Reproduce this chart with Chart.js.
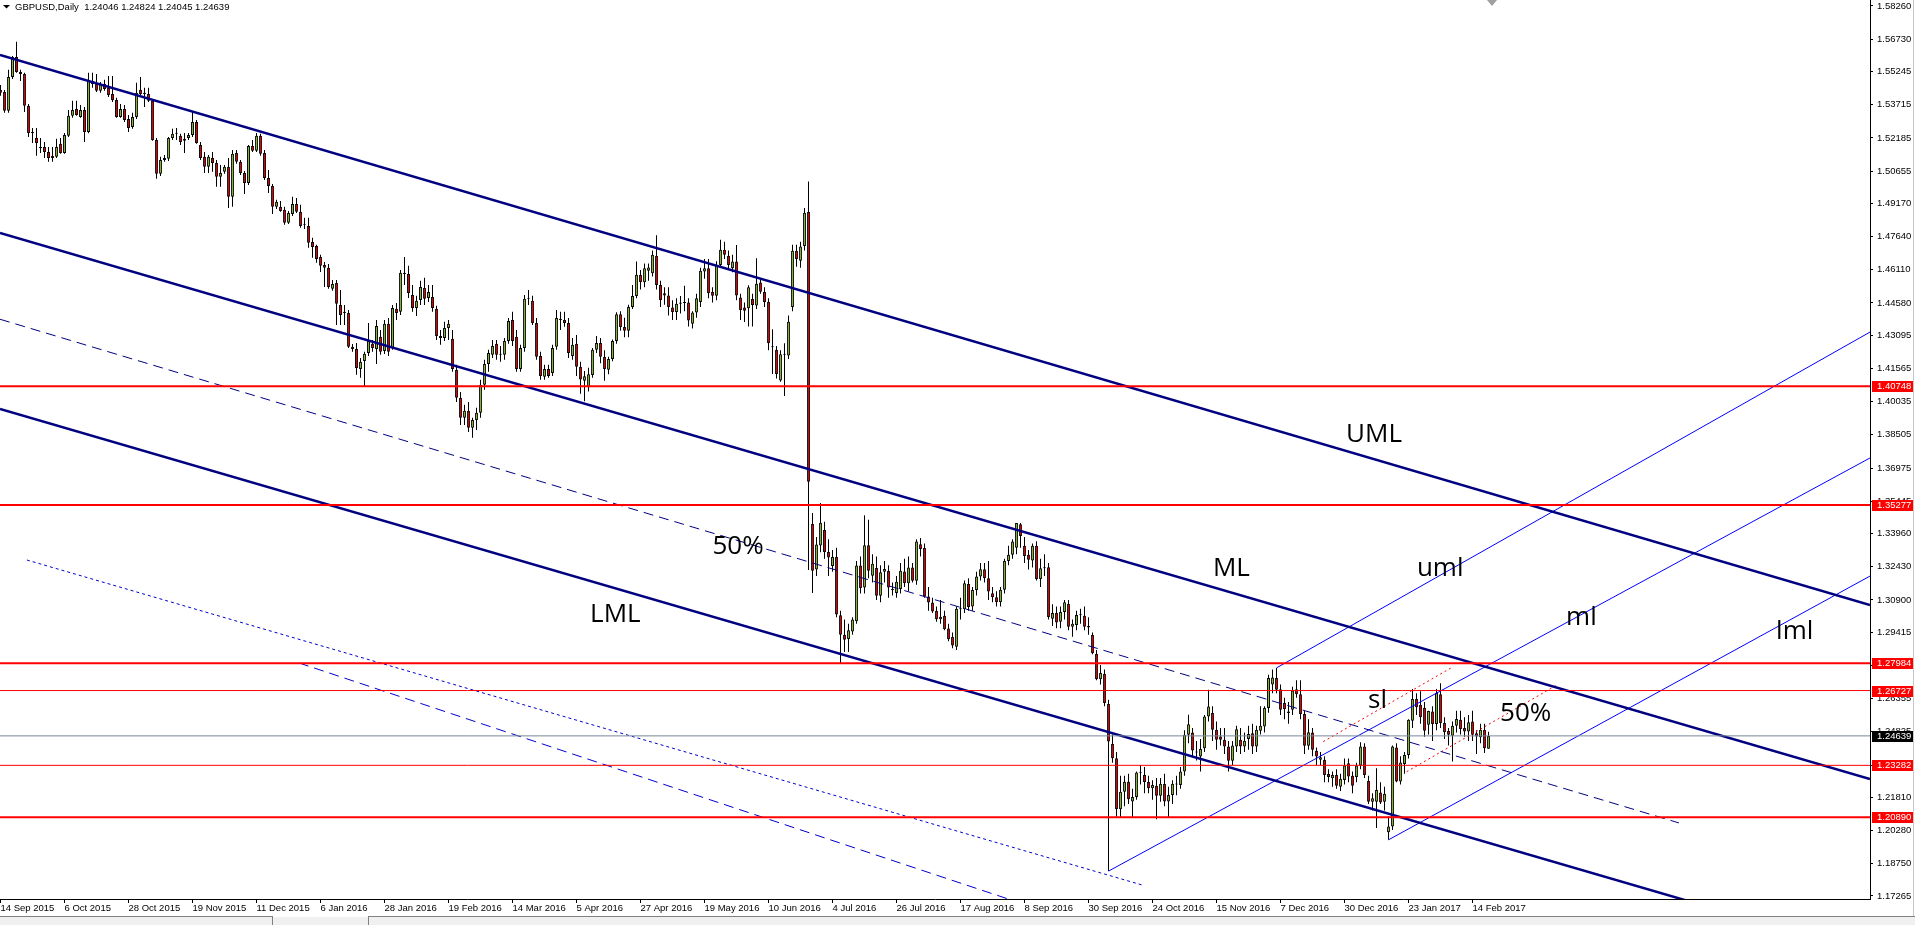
<!DOCTYPE html>
<html><head><meta charset="utf-8">
<script src="https://cdn.jsdelivr.net/npm/chart.js@4.4.0/dist/chart.umd.min.js"></script>
<style>html,body{margin:0;padding:0;background:#fff;overflow:hidden}canvas{display:block}</style>
</head><body>
<canvas id="c" width="1915" height="925"></canvas>
<script>
// ---- daily GBPUSD candles, 14 Sep 2015 (bar 0) .. 20 Feb 2017 (bar 372) ----
const opens = [
1.5439,1.5430,1.5343,1.5499,1.5591,1.5522,1.5513,1.5366,1.5241,1.5218,
1.5177,1.5177,1.5154,1.5136,1.5131,1.5191,1.5149,1.5228,1.5320,1.5352,
1.5315,1.5347,1.5246,1.5481,1.5467,1.5435,1.5467,1.5449,1.5421,1.5393,
1.5315,1.5352,1.5306,1.5269,1.5315,1.5440,1.5426,1.5421,1.5389,1.5209,
1.5053,1.5117,1.5122,1.5218,1.5237,1.5228,1.5205,1.5218,1.5232,1.5292,
1.5186,1.5131,1.5085,1.5126,1.5103,1.5039,1.5062,1.5085,1.4947,1.5149,
1.5108,1.5057,1.5011,1.5181,1.5159,1.5228,1.5149,1.5034,1.4997,1.4901,
1.4901,1.4887,1.4827,1.4868,1.4914,1.4878,1.4822,1.4813,1.4739,1.4721,
1.4670,1.4633,1.4620,1.4523,1.4550,1.4449,1.4412,1.4412,1.4256,1.4246,
1.4154,1.4191,1.4228,1.4270,1.4246,1.4302,1.4237,1.4362,1.4251,1.4431,
1.4417,1.4597,1.4592,1.4495,1.4435,1.4472,1.4527,1.4481,1.4486,1.4431,
1.4306,1.4297,1.4343,1.4293,1.4150,1.4021,1.3929,1.3961,1.3883,1.3919,
1.3952,1.4081,1.4177,1.4219,1.4270,1.4219,1.4219,1.4283,1.4380,1.4302,
1.4154,1.4251,1.4477,1.4468,1.4366,1.4214,1.4118,1.4154,1.4136,1.4256,
1.4385,1.4380,1.4366,1.4214,1.4270,1.4164,1.4100,1.4070,1.4126,1.4242,
1.4274,1.4210,1.4150,1.4200,1.4283,1.4406,1.4347,1.4330,1.4440,1.4490,
1.4588,1.4554,1.4606,1.4595,1.4675,1.4541,1.4503,1.4492,1.4437,1.4416,
1.4454,1.4460,1.4460,1.4362,1.4414,1.4462,1.4603,1.4618,1.4510,1.4491,
1.4633,1.4703,1.4675,1.4618,1.4649,1.4483,1.4437,1.4434,1.4476,1.4446,
1.4552,1.4508,1.4464,1.4255,1.4242,1.4101,1.4220,1.4216,1.4440,1.4698,
1.4653,1.4720,1.4877,1.3440,1.3230,1.3341,1.3412,1.3311,1.3246,1.3288,
1.3019,1.2930,1.2910,1.2945,1.2992,1.3249,1.3147,1.3342,1.3202,1.3237,
1.3109,1.3220,1.3225,1.3140,1.3122,1.3140,1.3221,1.3167,1.3240,1.3178,
1.3347,1.3329,1.3106,1.3078,1.3040,1.3001,1.3017,1.2958,1.2919,1.2875,
1.3049,1.3047,1.3164,1.3060,1.3136,1.3198,1.3232,1.3190,1.3121,1.3103,
1.3080,1.3137,1.3270,1.3298,1.3330,1.3439,1.3340,1.3298,1.3272,1.3340,
1.3186,1.3236,1.3241,1.3003,1.3030,1.2990,1.3034,1.3071,1.2967,1.2975,
1.3021,1.3017,1.2970,1.2929,1.2842,1.2725,1.2750,1.2611,1.2426,1.2361,
1.2126,1.2207,1.2253,1.2162,1.2182,1.2295,1.2284,1.2251,1.2223,1.2234,
1.2188,1.2242,1.2162,1.2192,1.2243,1.2238,1.2300,1.2469,1.2480,1.2390,
1.2369,1.2407,1.2553,1.2569,1.2492,1.2461,1.2446,1.2415,1.2349,1.2415,
1.2446,1.2415,1.2449,1.2476,1.2415,1.2488,1.2507,1.2592,1.2700,1.2730,
1.2679,1.2615,1.2576,1.2584,1.2679,1.2656,1.2565,1.2418,1.2479,1.2395,
1.2354,1.2354,1.2288,1.2269,1.2284,1.2230,1.2261,1.2338,1.2280,1.2274,
1.2327,1.2415,1.2257,1.2161,1.2161,1.2203,1.2161,1.2020,1.2046,1.2410,
1.2254,1.2334,1.2376,1.2534,1.2634,1.2607,1.2594,1.2515,1.2576,1.2519,
1.2656,1.2523,1.2487,1.2464,1.2510,1.2538,1.2500,1.2484,1.2530,1.2476,
1.2458,1.2492,1.24046];
const highs = [
1.5462,1.5439,1.5532,1.5596,1.5661,1.5532,1.5518,1.5375,1.5264,1.5264,
1.5218,1.5200,1.5177,1.5177,1.5214,1.5218,1.5241,1.5347,1.5389,1.5389,
1.5370,1.5361,1.5518,1.5518,1.5513,1.5476,1.5486,1.5504,1.5504,1.5403,
1.5375,1.5370,1.5324,1.5334,1.5472,1.5499,1.5449,1.5449,1.5398,1.5218,
1.5131,1.5140,1.5223,1.5260,1.5264,1.5237,1.5241,1.5241,1.5338,1.5301,
1.5200,1.5154,1.5140,1.5154,1.5117,1.5094,1.5094,1.5126,1.5163,1.5163,
1.5117,1.5066,1.5186,1.5209,1.5241,1.5237,1.5163,1.5071,1.5006,1.4933,
1.4928,1.4901,1.4882,1.4947,1.4942,1.4910,1.4850,1.4850,1.4758,1.4726,
1.4680,1.4647,1.4638,1.4564,1.4564,1.4518,1.4449,1.4426,1.4269,1.4274,
1.4205,1.4233,1.4366,1.4288,1.4380,1.4334,1.4380,1.4389,1.4449,1.4458,
1.4610,1.4670,1.4629,1.4541,1.4491,1.4560,1.4574,1.4541,1.4541,1.4445,
1.4334,1.4371,1.4380,1.4334,1.4173,1.4048,1.3989,1.4002,1.3929,1.3975,
1.4104,1.4196,1.4242,1.4288,1.4288,1.4260,1.4297,1.4389,1.4417,1.4334,
1.4265,1.4495,1.4518,1.4491,1.4389,1.4233,1.4173,1.4173,1.4265,1.4426,
1.4417,1.4417,1.4389,1.4297,1.4311,1.4187,1.4145,1.4160,1.4251,1.4306,
1.4297,1.4240,1.4210,1.4290,1.4415,1.4420,1.4390,1.4450,1.4541,1.4649,
1.4610,1.4640,1.4640,1.4700,1.4770,1.4560,1.4530,1.4530,1.4470,1.4480,
1.4490,1.4537,1.4480,1.4420,1.4500,1.4620,1.4660,1.4660,1.4530,1.4650,
1.4749,1.4740,1.4700,1.4680,1.4725,1.4500,1.4460,1.4540,1.4500,1.4664,
1.4570,1.4530,1.4480,1.4337,1.4260,1.4240,1.4273,1.4400,1.4726,1.4726,
1.4740,1.4895,1.5018,1.3491,1.3380,1.3537,1.3450,1.3370,1.3320,1.3330,
1.3040,1.3000,1.2980,1.3010,1.3270,1.3290,1.3480,1.3460,1.3300,1.3290,
1.3250,1.3270,1.3250,1.3170,1.3200,1.3260,1.3280,1.3290,1.3260,1.3370,
1.3375,1.3350,1.3150,1.3100,1.3060,1.3090,1.3040,1.2980,1.2940,1.3060,
1.3100,1.3180,1.3190,1.3150,1.3220,1.3260,1.3260,1.3270,1.3150,1.3130,
1.3150,1.3280,1.3340,1.3370,1.3445,1.3445,1.3380,1.3320,1.3350,1.3360,
1.3280,1.3300,1.3260,1.3070,1.3060,1.3060,1.3090,1.3090,1.3000,1.3040,
1.3050,1.3060,1.3010,1.2940,1.2860,1.2790,1.2770,1.2630,1.2470,1.2390,
1.2280,1.2280,1.2290,1.2220,1.2300,1.2330,1.2320,1.2280,1.2260,1.2270,
1.2270,1.2290,1.2230,1.2260,1.2280,1.2320,1.2490,1.2561,1.2500,1.2440,
1.2450,1.2560,1.2676,1.2600,1.2530,1.2500,1.2500,1.2440,1.2440,1.2510,
1.2500,1.2480,1.2510,1.2520,1.2510,1.2600,1.2600,1.2745,1.2770,1.2776,
1.2700,1.2640,1.2620,1.2690,1.2720,1.2720,1.2580,1.2540,1.2500,1.2410,
1.2390,1.2370,1.2310,1.2300,1.2310,1.2290,1.2360,1.2360,1.2300,1.2340,
1.2435,1.2430,1.2280,1.2200,1.2315,1.2250,1.2230,1.2092,1.2420,1.2430,
1.2370,1.2390,1.2540,1.2680,1.2660,1.2670,1.2620,1.2580,1.2600,1.2680,
1.2706,1.2550,1.2500,1.2530,1.2580,1.2580,1.2550,1.2560,1.2580,1.2490,
1.2520,1.2520,1.24824];
const lows = [
1.5412,1.5334,1.5334,1.5490,1.5518,1.5481,1.5338,1.5223,1.5195,1.5136,
1.5149,1.5126,1.5108,1.5108,1.5126,1.5145,1.5145,1.5223,1.5311,1.5320,
1.5311,1.5200,1.5240,1.5449,1.5430,1.5426,1.5435,1.5407,1.5384,1.5311,
1.5311,1.5292,1.5246,1.5260,1.5306,1.5412,1.5361,1.5384,1.5205,1.5030,
1.5043,1.5108,1.5112,1.5209,1.5209,1.5186,1.5149,1.5209,1.5223,1.5191,
1.5117,1.5057,1.5057,1.5062,1.4993,1.4993,1.5053,1.4896,1.4901,1.5099,
1.5048,1.4960,1.5002,1.5154,1.5154,1.5136,1.5025,1.4965,1.4868,1.4891,
1.4878,1.4818,1.4822,1.4859,1.4873,1.4804,1.4799,1.4712,1.4666,1.4643,
1.4601,1.4532,1.4523,1.4514,1.4357,1.4357,1.4357,1.4251,1.4233,1.4127,
1.4113,1.4076,1.4214,1.4233,1.4177,1.4219,1.4223,1.4214,1.4242,1.4380,
1.4403,1.4541,1.4481,1.4417,1.4398,1.4449,1.4449,1.4463,1.4417,1.4288,
1.4265,1.4283,1.4288,1.4141,1.4002,1.3896,1.3896,1.3864,1.3837,1.3873,
1.3929,1.4058,1.4141,1.4205,1.4196,1.4187,1.4196,1.4270,1.4260,1.4141,
1.4141,1.4233,1.4449,1.4357,1.4196,1.4104,1.4104,1.4113,1.4122,1.4242,
1.4334,1.4348,1.4205,1.4196,1.4122,1.4040,1.4005,1.4050,1.4113,1.4228,
1.4180,1.4100,1.4130,1.4190,1.4270,1.4330,1.4300,1.4300,1.4430,1.4480,
1.4520,1.4530,1.4560,1.4580,1.4520,1.4440,1.4450,1.4400,1.4380,1.4380,
1.4410,1.4420,1.4350,1.4340,1.4390,1.4440,1.4570,1.4480,1.4460,1.4470,
1.4620,1.4660,1.4610,1.4600,1.4470,1.4380,1.4370,1.4350,1.4350,1.4430,
1.4500,1.4440,1.4240,1.4131,1.4110,1.4095,1.4030,1.4200,1.4420,1.4625,
1.4620,1.4700,1.3228,1.3122,1.3200,1.3310,1.3280,1.3200,1.3220,1.3010,
1.2798,1.2850,1.2850,1.2930,1.2980,1.3120,1.3120,1.3190,1.3170,1.3090,
1.3080,1.3170,1.3100,1.3110,1.3100,1.3120,1.3150,1.3130,1.3170,1.3160,
1.3290,1.3100,1.3040,1.3030,1.2990,1.2980,1.2950,1.2900,1.2868,1.2860,
1.3000,1.3030,1.3040,1.3040,1.3110,1.3180,1.3170,1.3090,1.3080,1.3060,
1.3060,1.3120,1.3250,1.3280,1.3300,1.3330,1.3260,1.3230,1.3240,1.3180,
1.3150,1.3200,1.3000,1.2970,1.2960,1.2960,1.3000,1.2950,1.2920,1.2950,
1.2980,1.2950,1.2930,1.2840,1.2720,1.2700,1.2600,1.1841,1.2340,1.2091,
1.2090,1.2140,1.2150,1.2090,1.2170,1.2240,1.2200,1.2200,1.2170,1.2080,
1.2160,1.2140,1.2090,1.2150,1.2190,1.2220,1.2280,1.2430,1.2370,1.2350,
1.2300,1.2390,1.2530,1.2440,1.2400,1.2420,1.2380,1.2300,1.2330,1.2390,
1.2380,1.2390,1.2400,1.2380,1.2390,1.2470,1.2480,1.2570,1.2660,1.2660,
1.2560,1.2540,1.2520,1.2560,1.2640,1.2540,1.2380,1.2400,1.2370,1.2330,
1.2330,1.2250,1.2250,1.2230,1.2220,1.2210,1.2240,1.2250,1.2200,1.2250,
1.2310,1.2270,1.2150,1.2120,1.2039,1.2150,1.2120,1.1985,1.2030,1.2250,
1.2240,1.2290,1.2360,1.2500,1.2560,1.2520,1.2460,1.2470,1.2440,1.2490,
1.2500,1.2450,1.2420,1.2346,1.2480,1.2470,1.2460,1.2440,1.2440,1.2380,
1.2430,1.2385,1.24045];
const closes = [
1.5426,1.5343,1.5499,1.5591,1.5522,1.5513,1.5366,1.5241,1.5246,1.5195,
1.5172,1.5154,1.5126,1.5126,1.5177,1.5149,1.5232,1.5320,1.5347,1.5324,
1.5347,1.5246,1.5481,1.5467,1.5435,1.5467,1.5444,1.5416,1.5393,1.5315,
1.5352,1.5301,1.5264,1.5315,1.5426,1.5421,1.5421,1.5389,1.5209,1.5053,
1.5117,1.5126,1.5218,1.5237,1.5241,1.5200,1.5214,1.5232,1.5292,1.5195,
1.5126,1.5085,1.5131,1.5103,1.5039,1.5057,1.5085,1.4947,1.5145,1.5108,
1.5057,1.5011,1.5181,1.5159,1.5228,1.5145,1.5034,1.4997,1.4901,1.4924,
1.4882,1.4827,1.4873,1.4914,1.4878,1.4813,1.4818,1.4735,1.4716,1.4661,
1.4629,1.4620,1.4532,1.4545,1.4454,1.4403,1.4417,1.4256,1.4246,1.4159,
1.4187,1.4224,1.4283,1.4251,1.4352,1.4233,1.4362,1.4233,1.4435,1.4412,
1.4597,1.4592,1.4504,1.4435,1.4468,1.4532,1.4477,1.4509,1.4435,1.4306,
1.4297,1.4343,1.4362,1.4154,1.4021,1.3929,1.3961,1.3883,1.3919,1.3952,
1.4081,1.4177,1.4228,1.4260,1.4219,1.4224,1.4283,1.4375,1.4283,1.4154,
1.4251,1.4477,1.4481,1.4366,1.4210,1.4122,1.4154,1.4122,1.4251,1.4389,
1.4380,1.4366,1.4228,1.4265,1.4164,1.4105,1.4120,1.4130,1.4242,1.4274,
1.4210,1.4154,1.4200,1.4283,1.4406,1.4347,1.4330,1.4440,1.4490,1.4588,
1.4554,1.4618,1.4621,1.4680,1.4541,1.4472,1.4492,1.4439,1.4416,1.4454,
1.4460,1.4458,1.4377,1.4414,1.4480,1.4606,1.4618,1.4503,1.4491,1.4633,
1.4703,1.4680,1.4633,1.4649,1.4492,1.4426,1.4422,1.4531,1.4449,1.4546,
1.4510,1.4462,1.4273,1.4254,1.4131,1.4222,1.4219,1.4372,1.4698,1.4660,
1.4718,1.4874,1.3634,1.3224,1.3345,1.3446,1.3311,1.3285,1.3288,1.3023,
1.2930,1.2907,1.2950,1.3000,1.3249,1.3145,1.3342,1.3225,1.3257,1.3109,
1.3218,1.3233,1.3147,1.3135,1.3174,1.3225,1.3167,1.3240,1.3178,1.3359,
1.3325,1.3106,1.3078,1.3037,1.3001,1.3013,1.2955,1.2909,1.2880,1.3049,
1.3047,1.3167,1.3057,1.3136,1.3198,1.3232,1.3190,1.3129,1.3103,1.3080,
1.3137,1.3270,1.3298,1.3359,1.3444,1.3385,1.3293,1.3275,1.3340,1.3186,
1.3236,1.3240,1.3011,1.3030,1.2986,1.3034,1.3080,1.2967,1.2980,1.3021,
1.3019,1.2967,1.2963,1.2845,1.2725,1.2753,1.2615,1.2438,1.2361,1.2126,
1.2207,1.2253,1.2172,1.2182,1.2295,1.2292,1.2251,1.2223,1.2238,1.2188,
1.2243,1.2162,1.2192,1.2243,1.2240,1.2300,1.2469,1.2518,1.2396,1.2387,
1.2403,1.2553,1.2599,1.2492,1.2446,1.2446,1.2415,1.2349,1.2420,1.2495,
1.2415,1.2441,1.2473,1.2415,1.2492,1.2510,1.2592,1.2730,1.2733,1.2676,
1.2584,1.2587,1.2569,1.2673,1.2656,1.2565,1.2418,1.2481,1.2400,1.2369,
1.2366,1.2284,1.2274,1.2284,1.2234,1.2266,1.2327,1.2277,1.2234,1.2327,
1.2415,1.2284,1.2161,1.2177,1.2215,1.2157,1.2197,1.2046,1.2415,1.2254,
1.2341,1.2376,1.2538,1.2634,1.2596,1.2550,1.2488,1.2579,1.2519,1.2661,
1.2523,1.2481,1.2469,1.2510,1.2542,1.2496,1.2484,1.2527,1.2469,1.2461,
1.2492,1.2407,1.24639];

// ---- axis ticks ----
const dateTickBars = [0,16,32,48,64,80,96,112,128,144,160,176,192,208,224,240,256,272,288,304,320,336,352,368];
const dateTickLabels = ['14 Sep 2015','6 Oct 2015','28 Oct 2015','19 Nov 2015','11 Dec 2015','6 Jan 2016','28 Jan 2016','19 Feb 2016','14 Mar 2016','5 Apr 2016','27 Apr 2016','19 May 2016','10 Jun 2016','4 Jul 2016','26 Jul 2016','17 Aug 2016','8 Sep 2016','30 Sep 2016','24 Oct 2016','15 Nov 2016','7 Dec 2016','30 Dec 2016','23 Jan 2017','14 Feb 2017'];
const priceTicks = [1.58260,1.56730,1.55245,1.53715,1.52185,1.50655,1.49170,1.47640,1.46110,1.44580,1.43095,1.41565,1.40035,1.38505,1.36975,1.35445,1.33960,1.32430,1.30900,1.29415,1.27885,1.26355,1.24825,1.23295,1.21810,1.20280,1.18750,1.17265];

// ---- horizontal levels and bid ----
const levelPrices = [1.40748, 1.35277, 1.27984, 1.26727, 1.23282, 1.20890];
const bidPrice = 1.24639;
const headerText = 'GBPUSD,Daily  1.24046 1.24824 1.24045 1.24639';

// ---- drawn objects: endpoints as [bar, price] ----
const pitchforkBig = {           // UML, ML, LML
  UML: [[-0.125, 1.5600], [467.375, 1.3067]],
  ML:  [[-0.125, 1.4780], [467.375, 1.2265]],
  LML: [[-0.125, 1.3970], [467.375, 1.1459]]
};
const halfLine = [[-0.125, 1.4383], [419.6, 1.2063]];
const dottedLine = [[6.6, 1.3274], [285.4, 1.1777]];
const dashedLine = [[74.6, 1.2800], [257.4, 1.1679]];
const pitchforkSmall = {
  uml: [[319, 1.2777], [467.375, 1.4324]],
  ml:  [[277, 1.1841], [467.375, 1.3744]],
  lml: [[347, 1.1985], [467.375, 1.3200]]
};
const slLine = [[330.7, 1.24375], [363.2, 1.27830]];
const half2Line = [[351.55, 1.22990], [389.1, 1.26984]];

// text labels: [text, bar, price(baseline)]
const notes = [
  ['UML', 336.4, 1.3818], ['ML', 303.1, 1.3200], ['LML', 147.4, 1.2987], ['50%', 178.0, 1.3303],
  ['uml', 354.1, 1.3200], ['ml', 391.4, 1.2975], ['lml', 443.9, 1.2910], ['sl', 341.9, 1.2592], ['50%', 374.9, 1.2533]
];

// ---------------- chart -----------------
const X_MIN = -0.125, X_MAX = 467.375, Y_MIN = 1.17125, Y_MAX = 1.58536;
const idx = opens.map((_, i) => i);
const seg = (pts) => pts.map(p => ({x: p[0], y: p[1]}));
const lineDs = (pts, color, width, dash) => ({
  type: 'line', data: seg(pts), borderColor: color, borderWidth: width, borderDash: dash || [],
  pointRadius: 0, pointHoverRadius: 0, fill: false, tension: 0, order: 0
});

const datasets = [];
datasets.push({
  type: 'bar', label: 'wick', data: idx.map(i => ({x: i, y: [lows[i], highs[i]]})),
  backgroundColor: '#000000', borderWidth: 0, maxBarThickness: 1, grouped: false, order: 6
});
datasets.push({
  type: 'bar', label: 'body', data: idx.map(i => ({x: i, y: [opens[i], closes[i]]})),
  backgroundColor: idx.map(i => closes[i] >= opens[i] ? '#9ACD32' : '#FF0000'),
  borderColor: '#000000', borderWidth: 1, borderSkipped: false, maxBarThickness: 3, minBarLength: 1,
  grouped: false, order: 5
});
const levelWidths = [2, 2, 2, 1, 1, 2];
levelPrices.forEach((p, k) => datasets.push(lineDs([[X_MIN, p], [X_MAX, p]], '#FF0000', levelWidths[k])));
datasets.push(lineDs([[X_MIN, bidPrice], [X_MAX, bidPrice]], '#778899', 1));
Object.values(pitchforkBig).forEach(l => datasets.push(lineDs(l, '#000080', 2.5)));
datasets.push(lineDs(halfLine, '#000080', 1, [10, 6]));
datasets.push(lineDs(dottedLine, '#0000CD', 1, [3, 3]));
datasets.push(lineDs(dashedLine, '#0000CD', 1, [10, 6]));
Object.values(pitchforkSmall).forEach(l => datasets.push(lineDs(l, '#0000FF', 1)));
datasets.push(lineDs(slLine, '#FF0000', 1, [2, 3]));
datasets.push(lineDs(half2Line, '#FF0000', 1, [2, 3]));

const AX_FONT = {family: 'Liberation Sans', size: 9.5};

const overlay = {
  id: 'overlay',
  afterDatasetsDraw(chart) {
    const {ctx, scales: {x, y}} = chart;
    ctx.save();
    ctx.fillStyle = '#000';
    ctx.font = '26px "Open Sans"';
    ctx.textAlign = 'left';
    ctx.textBaseline = 'alphabetic';
    notes.forEach(n => ctx.fillText(n[0], x.getPixelForValue(n[1]), y.getPixelForValue(n[2])));
    ctx.restore();
  },
  afterDraw(chart) {
    const {ctx, scales: {y}} = chart;
    ctx.save();
    ctx.font = '9.5px "Liberation Sans"';
    ctx.textAlign = 'left';
    ctx.textBaseline = 'middle';
    const box = (p, bg) => {
      const py = Math.round(y.getPixelForValue(p));
      ctx.fillStyle = bg;
      ctx.fillRect(1872, py - 5, 41, 11);
      ctx.fillStyle = '#fff';
      ctx.fillText(p.toFixed(5), 1877, py + 0.5);
    };
    levelPrices.forEach(p => box(p, '#FF0000'));
    box(bidPrice, '#000000');
    // header
    ctx.fillStyle = '#000';
    ctx.textBaseline = 'alphabetic';
    ctx.fillText(headerText, 15, 10);
    ctx.beginPath(); ctx.moveTo(3, 5); ctx.lineTo(10, 5); ctx.lineTo(6.5, 8.5); ctx.closePath(); ctx.fill();
    // chart shift marker
    ctx.fillStyle = '#a0a0a0';
    ctx.beginPath(); ctx.moveTo(1487, 0); ctx.lineTo(1497, 0); ctx.lineTo(1492, 6); ctx.closePath(); ctx.fill();
    // window edges
    ctx.fillStyle = '#c8c8c8';
    ctx.fillRect(1913, 0, 1, 917);
    ctx.fillStyle = '#f0f0f0';
    ctx.fillRect(0, 917, 1915, 8);
    ctx.fillStyle = '#808080';
    ctx.fillRect(0, 916, 272, 1);
    ctx.fillRect(368, 916, 1547, 1);
    ctx.fillRect(272, 916, 1, 9);
    ctx.fillRect(368, 916, 1, 9);
    ctx.restore();
  }
};

new Chart(document.getElementById('c'), {
  type: 'bar',
  data: {datasets},
  options: {
    responsive: false, animation: false, devicePixelRatio: 1,
    layout: {padding: 0, autoPadding: false},
    plugins: {legend: {display: false}, tooltip: {enabled: false}},
    events: [],
    scales: {
      x: {
        type: 'linear', position: 'bottom', min: X_MIN, max: X_MAX, offset: false,
        afterBuildTicks: s => { s.ticks = dateTickBars.map(v => ({value: v})); },
        afterFit: s => { s.height = 26; s.paddingLeft = 0; s.paddingRight = 0; },
        grid: {display: true, drawOnChartArea: false, drawTicks: true, tickLength: 4, color: '#000', offset: false},
        border: {display: true, color: '#000', width: 1},
        ticks: {autoSkip: false, maxRotation: 0, align: 'start', padding: 0, color: '#000', font: AX_FONT,
          callback: (v, i) => dateTickLabels[i]}
      },
      y: {
        type: 'linear', position: 'right', min: Y_MIN, max: Y_MAX,
        afterBuildTicks: s => { s.ticks = priceTicks.map(v => ({value: v})); },
        afterFit: s => { s.width = 45; s.paddingTop = 0; s.paddingBottom = 0; },
        grid: {display: true, drawOnChartArea: false, drawTicks: true, tickLength: 3, color: '#000'},
        border: {display: true, color: '#000', width: 1},
        ticks: {autoSkip: false, padding: 4, color: '#000', font: AX_FONT,
          callback: v => Number(v).toFixed(5)}
      }
    }
  },
  plugins: [overlay]
});
</script>
</body></html>
